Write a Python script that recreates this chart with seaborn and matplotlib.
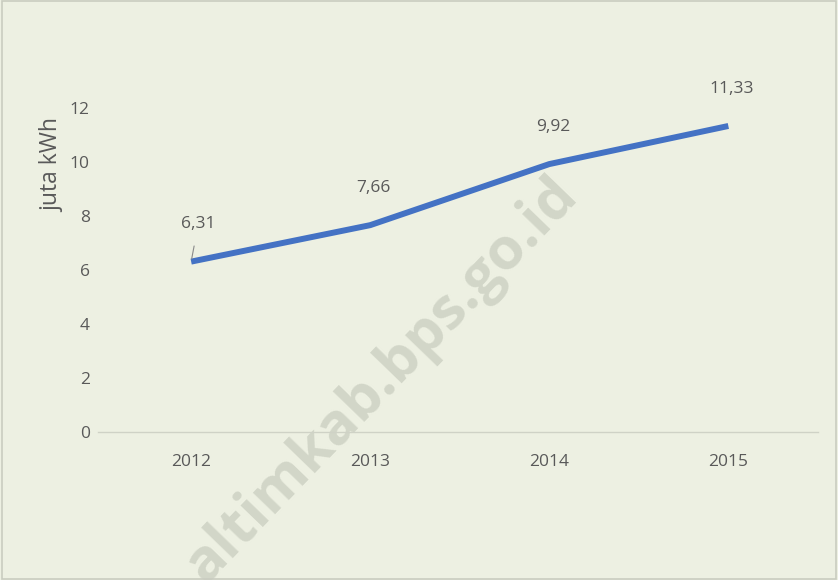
import matplotlib
matplotlib.use("Agg")
import pandas as pd
import seaborn as sns
from matplotlib import pyplot as plt

years = ["2012", "2013", "2014", "2015"]
values = [6.31, 7.66, 9.92, 11.33]
labels = ["6,31", "7,66", "9,92", "11,33"]

BG = "#edf0e2"
TXT = "#595959"
FS = 12.5

sns.set_style("white")
plt.rcParams["font.family"] = ["Open Sans", "DejaVu Sans"]

df = pd.DataFrame({"Tahun": years, "kWh": values})

fig = plt.figure(figsize=(8.38, 5.8), dpi=100, facecolor=BG)
ax = fig.add_axes([0.117, 0.255, 0.859, 0.559])
ax.set_facecolor(BG)

sns.lineplot(data=df, x="Tahun", y="kWh", ax=ax, color="#4472C4",
             linewidth=4.3, solid_capstyle="butt", sort=False, zorder=3)

ax.set_ylim(0, 12)
ax.set_xlim(-0.52, 3.5)
ax.set_yticks(range(0, 13, 2))
ax.tick_params(axis="both", length=0, labelsize=FS, labelcolor=TXT)
ax.tick_params(axis="x", pad=16)
ax.tick_params(axis="y", pad=6)

for s in ["top", "right", "left"]:
    ax.spines[s].set_visible(False)
ax.spines["bottom"].set_color("#cfd2c6")
ax.spines["bottom"].set_linewidth(1.0)

ax.set_xlabel("")
ax.set_ylabel("juta kWh", fontsize=16.5, color=TXT)
ax.yaxis.set_label_coords(-0.047, 0.824)

# data labels
for i, (v, lab) in enumerate(zip(values, labels)):
    if i == 0:
        ax.annotate(lab, xy=(i, v), xytext=(i + 0.04, v + 1.4),
                    ha="center", va="center", fontsize=FS, color=TXT,
                    arrowprops=dict(arrowstyle="-", color="#8a8a8a", lw=0.8,
                                    shrinkA=8, shrinkB=2), zorder=4)
    else:
        ax.text(i + 0.02, v + 1.37, lab, ha="center", va="center",
                fontsize=FS, color=TXT, zorder=4)

# watermark (under the line), partly running off the bottom edge
ax.text(0.455, 0.345, "altimkab.bps.go.id", rotation=46, fontsize=42,
        color="#d2d6c8", ha="center", va="center", fontweight="bold",
        transform=fig.transFigure, zorder=1, clip_on=False)

# outer border
fig.patches.append(plt.Rectangle((0.002, 0.002), 0.996, 0.996,
                                 transform=fig.transFigure, fill=False,
                                 edgecolor="#c9ccc0", linewidth=1.2))

fig.savefig("out.png", dpi=100, facecolor=BG)
